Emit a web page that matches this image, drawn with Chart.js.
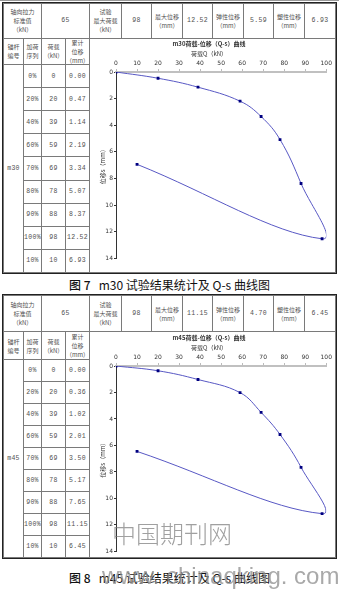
<!DOCTYPE html>
<html>
<head>
<meta charset="utf-8">
<script src="https://cdn.jsdelivr.net/npm/chart.js@4.4.1/dist/chart.umd.min.js"></script>
<style>
  html, body { margin: 0; padding: 0; background: #fff; }
  #page { position: relative; width: 339px; height: 593px; overflow: hidden; font-family: "Noto Sans CJK SC", sans-serif; }
  .cell { position: absolute; box-sizing: border-box; border: 1px solid #7a7a7a; display: flex; align-items: center; justify-content: center;
          text-align: center; font-size: 6px; line-height: 9px; color: #505050; white-space: pre; }
  .num { font-family: "Liberation Mono", "Noto Sans CJK SC", monospace; font-size: 6.5px; letter-spacing: 0.3px; }
  .frame { position: absolute; box-sizing: border-box; border: 1.5px solid #222; }
  .cap { position: absolute; left: 0; width: 339px; text-align: center; font-size: 12px; line-height: 14px; color: #111; white-space: pre; }
  .cap b { font-weight: 500; }
  .wm1 { position: absolute; left: 112px; top: 519px; font-size: 24px; line-height: 28px; color: rgba(120,120,120,0.7); font-weight: 300; }
  .wm2 { position: absolute; left: 102px; top: 562px; font-family: "Liberation Sans", sans-serif; font-size: 24px; line-height: 28px; color: rgba(140,140,140,0.75); white-space: pre; }
  canvas { position: absolute; }
</style>
</head>
<body>
<div id="page"></div>
<script>
const SEQ = ["0%", "20%", "40%", "60%", "70%", "80%", "90%", "100%", "10%"];
const LOAD_M30 = [0, 20, 39, 59, 69, 78, 88, 98, 10];
const DISP_M30 = [0.00, 0.47, 1.14, 2.19, 3.34, 5.07, 8.37, 12.52, 6.93];
const LOAD_M45 = [0, 20, 39, 59, 69, 78, 88, 98, 10];
const DISP_M45 = [0.00, 0.36, 1.02, 2.01, 3.50, 5.17, 7.65, 11.15, 6.45];
// standard load, max test load, max disp, elastic disp, plastic disp
const SUMMARY_M30 = ["65", "98", "12.52", "5.59", "6.93"];
const SUMMARY_M45 = ["65", "98", "11.15", "4.70", "6.45"];
const SUMMARY_LABELS = ["轴向拉力\n标准值\n（kN）", "试验\n最大荷载\n（kN）", "最大位移\n（mm）", "弹性位移\n（mm）", "塑性位移\n（mm）"];
const HEAD_LABELS = ["锚杆\n编号", "加荷\n序列", "荷载\n（kN）", "累计\n位移\n（mm）"];

const FONT = "'Noto Sans CJK SC', sans-serif";
const TICK_FONT = "'DejaVu Sans', sans-serif";
const page = document.getElementById("page");

// table column edges (px)
const COLS = [3, 23, 41, 65, 89];
const HEAD_COLS = [3, 41, 89, 121, 151, 182, 212, 243, 273, 304, 335];

function cell(x0, y0, x1, y1, text, cls) {
  const d = document.createElement("div");
  d.className = "cell" + (cls ? " " + cls : "");
  d.style.left = x0 + "px"; d.style.top = y0 + "px";
  d.style.width = (x1 - x0 + 1) + "px"; d.style.height = (y1 - y0 + 1) + "px";
  d.textContent = text;
  page.appendChild(d);
  return d;
}

function table(g, name, summary, load, disp) {
  for (let i = 0; i < 5; i++) {
    cell(HEAD_COLS[2 * i], g.top, HEAD_COLS[2 * i + 1], g.r1, SUMMARY_LABELS[i]);
    cell(HEAD_COLS[2 * i + 1], g.top, HEAD_COLS[2 * i + 2], g.r1, summary[i], "num");
  }
  for (let i = 0; i < 4; i++) cell(COLS[i], g.r1, COLS[i + 1], g.r2, HEAD_LABELS[i]);
  cell(COLS[0], g.r2, COLS[1], g.bottom, name, "num");
  const h = (g.bottom - g.r2) / SEQ.length;
  SEQ.forEach((s, i) => {
    const y0 = g.r2 + i * h, y1 = g.r2 + (i + 1) * h;
    cell(COLS[1], y0, COLS[2], y1, s, "num");
    cell(COLS[2], y0, COLS[3], y1, String(load[i]), "num");
    cell(COLS[3], y0, COLS[4], y1, disp[i].toFixed(2), "num");
  });
  cell(COLS[4], g.r1, HEAD_COLS[10], g.bottom, "");
  const f = document.createElement("div");
  f.className = "frame";
  f.style.left = "2px"; f.style.top = (g.top - 1) + "px";
  f.style.width = (HEAD_COLS[10] - 2 + 2) + "px"; f.style.height = (g.bottom - g.top + 3) + "px";
  page.appendChild(f);
}

function chart(id, top, height, padBottom, name, load, disp) {
  const cv = document.createElement("canvas");
  cv.id = id;
  cv.style.left = "90px"; cv.style.top = top + "px";
  cv.style.width = "244px"; cv.style.height = height + "px";
  cv.width = 244; cv.height = height;
  page.appendChild(cv);
  const txt = { size: 6, family: FONT };
  const tk = { size: 6, family: TICK_FONT };
  new Chart(cv, {
    type: "scatter",
    data: {
      datasets: [{
        data: load.map((x, i) => ({ x: x, y: disp[i] })),
        showLine: true, tension: 0.4,
        borderColor: "#5858c4", borderWidth: 1,
        pointStyle: "rect", pointRadius: 2, pointBorderWidth: 0,
        pointBackgroundColor: "#000080", pointBorderColor: "#000080",
      }],
    },
    options: {
      responsive: false, animation: false, devicePixelRatio: 1,
      elements: { line: { capBezierPoints: false } },
      layout: { padding: { left: 0, right: 6, top: 0, bottom: padBottom } },
      plugins: {
        legend: { display: false }, tooltip: { enabled: false },
        title: { display: true, text: name + "荷载-位移（Q-s）曲线", font: txt, color: "#333", padding: { top: 2.6, bottom: 0 } },
        subtitle: { display: true, text: "荷载Q（kN）", font: txt, color: "#333", padding: { top: 2.3, bottom: 0 } },
      },
      scales: {
        x: {
          type: "linear", position: "top", min: 0, max: 100,
          ticks: { stepSize: 10, font: tk, color: "#333", padding: 2, maxRotation: 0 },
          grid: { drawOnChartArea: false, tickLength: 3, color: "#bbb" },
          border: { color: "#c0c0c0", width: 2 },
          afterFit: (s) => { s.height = 14.7; },
        },
        y: {
          type: "linear", reverse: true, min: 0, max: 14,
          ticks: { stepSize: 2, font: tk, color: "#333", padding: 1 },
          grid: { drawOnChartArea: false, tickLength: 2, color: "#333" },
          border: { color: "#333", width: 1 },
          title: { display: true, text: "位移s（mm）", font: txt, color: "#333", padding: { top: 9.4, bottom: 0 } },
          afterFit: (s) => { s.width = 26; },
        },
      },
    },
  });
}

const topLine = document.createElement("div");
topLine.style.cssText = "position:absolute;left:0;top:0;width:339px;height:1px;background:#999";
page.appendChild(topLine);

table({ top: 3, r1: 37.5, r2: 64, bottom: 272 }, "m30", SUMMARY_M30, LOAD_M30, DISP_M30);
table({ top: 295, r1: 331, r2: 359, bottom: 557 }, "m45", SUMMARY_M45, LOAD_M45, DISP_M45);
chart("c1", 38, 233, 12.5, "m30", LOAD_M30, DISP_M30);
chart("c2", 332, 224, 3.3, "m45", LOAD_M45, DISP_M45);

function caption(top, fig, name) {
  const c = document.createElement("div");
  c.className = "cap"; c.style.top = top + "px";
  c.innerHTML = "<b>图 " + fig + "</b>   " + name + " 试验结果统计及 Q-s 曲线图";
  page.appendChild(c);
}
caption(278, 7, "m30");
caption(571, 8, "m45");

const wm1 = document.createElement("div");
wm1.className = "wm1"; wm1.textContent = "中国期刊网";
page.appendChild(wm1);
const wm2 = document.createElement("div");
wm2.className = "wm2"; wm2.textContent = "www. chinaqking. com";
page.appendChild(wm2);
</script>
</body>
</html>
